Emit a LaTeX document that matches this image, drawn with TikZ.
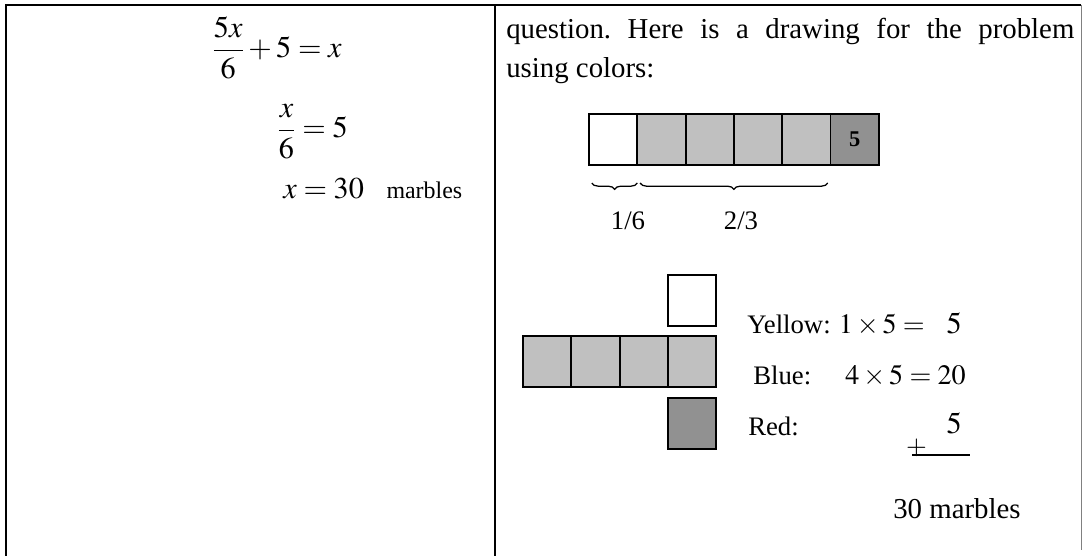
\documentclass[tikz,border=0pt]{standalone}
\usepackage{mathptmx}
\usepackage{fontspec}
\setmainfont{Liberation Serif}
\usepackage{tikz}
\usetikzlibrary{positioning,decorations.pathreplacing}
\definecolor{blu}{RGB}{192,192,192}
\definecolor{rd}{RGB}{145,145,145}
\frenchspacing

\begin{document}
\begin{tikzpicture}[x=0.025cm,y=-0.025cm,
  txt/.style={font=\fontsize{20.5}{24}\selectfont,inner sep=0pt,anchor=base west},
  lbl/.style={font=\fontsize{19}{22}\selectfont,inner sep=0pt,anchor=base west},
  eq/.style={font=\fontsize{21.5}{26}\selectfont,inner sep=0pt},
  sm/.style={font=\fontsize{20}{24}\selectfont,inner sep=0pt},
  sq/.style={draw,line width=1.3pt,minimum width=1.2075cm,minimum height=1.275cm,inner sep=0pt,outer sep=0pt},
  yel/.style={sq,fill=white},
  blu/.style={sq,fill=blu},
  rd/.style={sq,fill=rd},
  brc/.style={decorate,decoration={brace,mirror,amplitude=4.5pt},line width=0.9pt},
  rule/.style={line width=1.4pt}]
  \useasboundingbox (0,0) rectangle (1082,556);
  % table
  \draw[rule] (6,556) -- (6,5) -- (1081,5);
  \draw[rule] (495,5) -- (495,556);
  \draw[gray,line width=0.6pt] (1081,5) -- (1081,550);
  % left column
  \node[eq,anchor=base west] (e1) at (212,58) {$\displaystyle\frac{5x}{6}+5=x$};
  \node[eq,anchor=base west] (e2) at (277,138) {$\displaystyle\frac{x}{6}=5$};
  \node[eq,anchor=base west] (e3) at (283,199) {$x=30$};
  \node[font=\fontsize{17}{20}\selectfont,inner sep=0pt,anchor=base west] (mb) at ([xshift=0.55cm]e3.base east) {marbles};
  % right column
  \node[txt] (q1) at (506,39) {\makebox[14.2cm][s]{question. Here is a drawing for the problem}};
  \node[txt] (q2) at (506,78) {using colors:};
  \node[yel] (b1) at (613.15,139.5) {};
  \node[blu,right=0pt of b1] (b2) {};
  \node[blu,right=0pt of b2] (b3) {};
  \node[blu,right=0pt of b3] (b4) {};
  \node[blu,right=0pt of b4] (b5) {};
  \node[rd,right=0pt of b5] (b6) {\fontsize{16}{16}\selectfont\bfseries 5};
  \draw[brc] ([xshift=2pt,yshift=-0.45cm]b1.south west) -- ([yshift=-0.45cm]b1.south east);
  \draw[brc] ([xshift=2pt,yshift=-0.45cm]b2.south west) -- ([xshift=-2pt,yshift=-0.45cm]b5.south east);
  \node[lbl,anchor=center] (f1) at (628,221) {1/6};
  \node[lbl,anchor=center] (f2) at (741,221) {2/3};
  % squares by colour
  \node[blu] (c1) at (547.15,361.5) {};
  \node[blu,right=0pt of c1] (c2) {};
  \node[blu,right=0pt of c2] (c3) {};
  \node[blu,right=0pt of c3] (c4) {};
  \node[yel,above=0.25cm of c4] (cy) {};
  \node[rd,below=0.275cm of c4] (cr) {};
  \node[lbl] (ly) at (747,333) {Yellow:};
  \node[lbl] (lb) at (753,384) {Blue:};
  \node[lbl] (lr) at (748,435) {Red:};
  \node[sm,anchor=base east] (my) at (925,333) {$1\times5=$};
  \node[eq,anchor=base east] (my5) at (962,333) {$5$};
  \node[sm,anchor=base east] (mbl) at (966,384) {$4\times5=20$};
  \node[eq,anchor=base east] (mr) at (962,433) {$5$};
  \node[lbl,anchor=center] (pl) at (916.5,448) {$+$};
  \draw[line width=0.9pt] (912,455) -- (970,455);
  \node[txt] (tot) at (893,518) {30 marbles};
\end{tikzpicture}
\end{document}
